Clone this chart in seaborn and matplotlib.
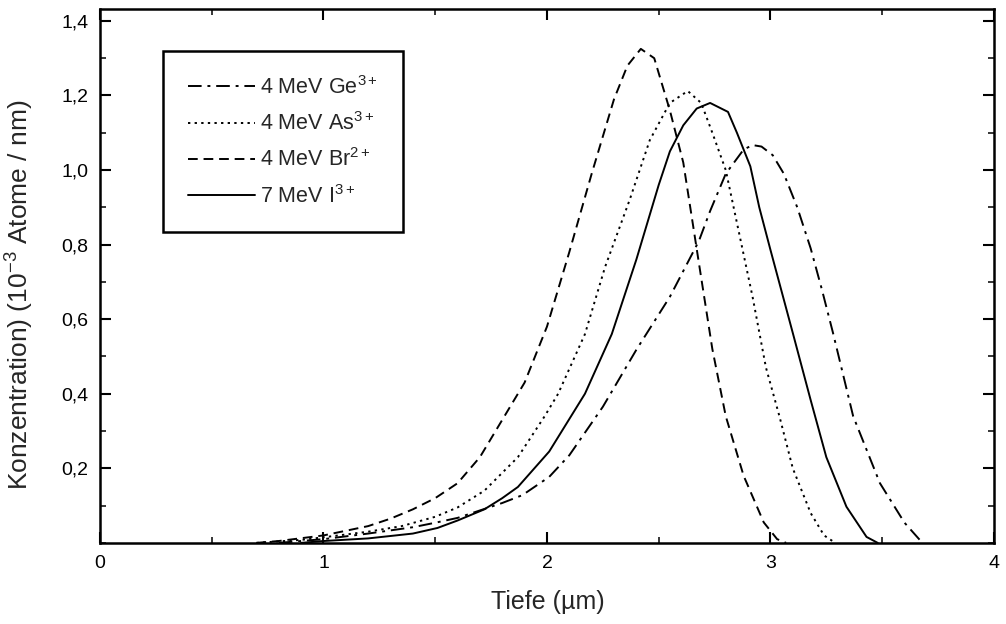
import matplotlib
matplotlib.use("Agg")
import matplotlib.pyplot as plt
import seaborn as sns
import pandas as pd
from matplotlib.ticker import FixedLocator, MultipleLocator

# ---- data ----
ge_x = [0.8, 1.0, 1.2, 1.4, 1.5, 1.6, 1.8, 1.89, 2.01, 2.10, 2.25, 2.40, 2.55, 2.68, 2.73,
        2.80, 2.88, 2.92, 2.96, 3.01, 3.06, 3.12, 3.18, 3.23, 3.28, 3.37, 3.49, 3.60, 3.68]
ge_y = [0.0, 0.01, 0.025, 0.042, 0.054, 0.067, 0.107, 0.128, 0.177, 0.235, 0.365, 0.518, 0.66, 0.81, 0.89,
        0.99, 1.055, 1.067, 1.063, 1.04, 0.99, 0.90, 0.79, 0.68, 0.563, 0.34, 0.16, 0.054, 0.0]

as_x = [0.7, 0.9, 1.0, 1.2, 1.35, 1.5, 1.6, 1.72, 1.87, 1.99, 2.05, 2.17, 2.26, 2.37, 2.46, 2.55,
        2.63, 2.69, 2.74, 2.80, 2.86, 2.92, 2.98, 3.04, 3.10, 3.18, 3.24, 3.29]
as_y = [0.0, 0.008, 0.015, 0.03, 0.045, 0.07, 0.095, 0.14, 0.23, 0.34, 0.40, 0.56, 0.74, 0.92, 1.08, 1.18,
        1.212, 1.18, 1.10, 1.00, 0.83, 0.66, 0.47, 0.34, 0.20, 0.08, 0.02, 0.0]

br_x = [0.7, 0.8, 1.0, 1.2, 1.3, 1.4, 1.5, 1.6, 1.7, 1.8, 1.9, 2.0, 2.1, 2.2, 2.3, 2.36, 2.42,
        2.48, 2.55, 2.61, 2.65, 2.68, 2.74, 2.80, 2.88, 2.97, 3.03, 3.07]
br_y = [0.0, 0.005, 0.02, 0.045, 0.065, 0.09, 0.12, 0.16, 0.23, 0.33, 0.43, 0.58, 0.78, 0.99, 1.19, 1.28, 1.325,
        1.30, 1.16, 1.02, 0.866, 0.75, 0.52, 0.34, 0.18, 0.055, 0.01, 0.0]

i_x = [0.9, 1.0, 1.2, 1.4, 1.51, 1.6, 1.72, 1.80, 1.87, 2.01, 2.17, 2.29, 2.40, 2.45, 2.50, 2.55,
       2.61, 2.67, 2.73, 2.81, 2.85, 2.91, 2.95, 3.00, 3.10, 3.18, 3.25, 3.34, 3.43, 3.48]
i_y = [0.0, 0.005, 0.012, 0.025, 0.04, 0.06, 0.09, 0.12, 0.15, 0.245, 0.40, 0.56, 0.76, 0.86, 0.96, 1.05,
       1.12, 1.165, 1.18, 1.156, 1.10, 1.01, 0.90, 0.786, 0.563, 0.383, 0.23, 0.097, 0.016, 0.0]

labels = ["4 MeV Ge$^{3+}$", "4 MeV As$^{3+}$", "4 MeV Br$^{2+}$", "7 MeV I$^{3+}$"]
x_ticks = [0, 1, 2, 3, 4]
y_ticks = [0.2, 0.4, 0.6, 0.8, 1.0, 1.2, 1.4]
y_tick_labels = ["0,2", "0,4", "0,6", "0,8", "1,0", "1,2", "1,4"]

# ---- style ----
sns.set_style("ticks")
plt.rcParams["font.family"] = ["Liberation Sans", "DejaVu Sans"]
plt.rcParams["mathtext.fontset"] = "custom"
plt.rcParams["mathtext.rm"] = "Liberation Sans"
plt.rcParams["mathtext.it"] = "Liberation Sans:italic"
plt.rcParams["mathtext.bf"] = "Liberation Sans:bold"

fig = plt.figure(figsize=(10.06, 6.24), dpi=100)
ax = fig.add_axes([0.0994, 0.130, 0.8886, 0.8556])

series = [(ge_x, ge_y, (0, (7, 3, 1.5, 3))),
          (as_x, as_y, (0, (1.2, 2.2))),
          (br_x, br_y, (0, (5, 3))),
          (i_x, i_y, "-")]

for (xs, ys, ls), lab in zip(series, labels):
    df = pd.DataFrame({"x": xs, "y": ys})
    sns.lineplot(data=df, x="x", y="y", ax=ax, color="black", linewidth=1.4,
                 linestyle=ls, label=lab, sort=False, estimator=None)

ax.set_xlim(0, 4)
ax.set_ylim(0, 1.432)
ax.xaxis.set_major_locator(FixedLocator(x_ticks))
ax.xaxis.set_minor_locator(MultipleLocator(0.5))
ax.set_xticklabels([str(t) for t in x_ticks])
ax.yaxis.set_major_locator(FixedLocator(y_ticks))
ax.yaxis.set_minor_locator(MultipleLocator(0.1))
ax.set_yticklabels(y_tick_labels)

for s in ax.spines.values():
    s.set_visible(True)
    s.set_linewidth(1.8)
    s.set_color("black")

ax.tick_params(which="major", direction="in", length=8, width=1.5, top=True, right=True,
               labelsize=14, colors="black")
ax.tick_params(which="minor", direction="in", length=4.5, width=1.3, top=True, right=True)
ax.tick_params(axis="x", which="major", pad=9)
ax.tick_params(axis="y", which="major", pad=8.5)

ax.set_xlabel("Tiefe (µm)", fontsize=18)
ax.set_ylabel("Konzentration) (10$^{-3}$ Atome / nm)", fontsize=19)
ax.xaxis.set_label_coords(0.501, -0.088)
ax.yaxis.set_label_coords(-0.072, 0.464)

leg = ax.legend(loc="upper left", bbox_to_anchor=(0.0705, 0.921), borderaxespad=0,
                fontsize=15.5, frameon=True, fancybox=False, shadow=False,
                handlelength=3.1, handletextpad=0.25, labelspacing=0.62,
                borderpad=1.15)
leg.get_frame().set_edgecolor("black")
leg.get_frame().set_linewidth(1.8)
leg.get_frame().set_alpha(1)

fig.savefig("out.png", dpi=100, facecolor="white")
